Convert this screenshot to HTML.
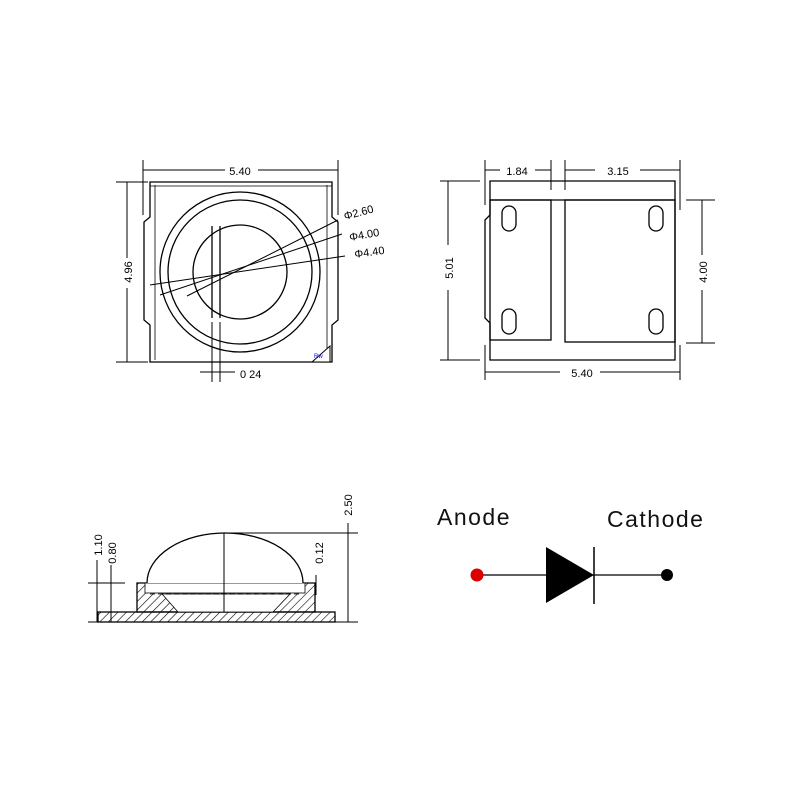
<!DOCTYPE html>
<html><head><meta charset="utf-8"><style>body{margin:0;background:#fff}svg{display:block}</style></head><body>
<svg width="800" height="800" viewBox="0 0 800 800" xmlns="http://www.w3.org/2000/svg" font-family="Liberation Sans, sans-serif">
<defs>
<pattern id="h" width="6" height="6" patternUnits="userSpaceOnUse" patternTransform="rotate(45)"><line x1="0" y1="0" x2="0" y2="6" stroke="#000" stroke-width="1.2"/></pattern>
</defs>
<g fill="none" stroke="#000" stroke-width="1.3">
<path d="M150 182 H332 V217 L338 222 V320 L332 325 V362 H150 V325 L144 320 V222 L150 217 Z"/>
<line x1="155" y1="185" x2="155" y2="360" stroke-width="0.8"/>
<line x1="327" y1="185" x2="327" y2="360" stroke-width="0.8"/>
<line x1="150" y1="186" x2="332" y2="186" stroke-width="0.8"/>
<circle cx="240" cy="272" r="80"/>
<circle cx="240" cy="272" r="72"/>
<circle cx="240" cy="272" r="47"/>
<line x1="212" y1="226" x2="212" y2="318"/>
<line x1="220" y1="226" x2="220" y2="318"/>
<line x1="212" y1="322" x2="212" y2="382" stroke-width="1"/>
<line x1="220" y1="322" x2="220" y2="382" stroke-width="1"/>
<line x1="200" y1="372" x2="235" y2="372" stroke-width="1"/>
<line x1="150" y1="285" x2="345" y2="256" stroke-width="1"/>
<line x1="160" y1="295" x2="342" y2="234" stroke-width="1"/>
<line x1="187" y1="296" x2="338" y2="220" stroke-width="1"/>
<line x1="143" y1="160" x2="143" y2="215" stroke-width="1"/>
<line x1="338" y1="160" x2="338" y2="215" stroke-width="1"/>
<line x1="143" y1="170" x2="225" y2="170" stroke-width="1"/>
<line x1="258" y1="170" x2="338" y2="170" stroke-width="1"/>
<line x1="116" y1="182" x2="148" y2="182" stroke-width="1"/>
<line x1="116" y1="362" x2="148" y2="362" stroke-width="1"/>
<line x1="127" y1="182" x2="127" y2="258" stroke-width="1"/>
<line x1="127" y1="288" x2="127" y2="362" stroke-width="1"/>
<path d="M490 181 H675 V360 H490 V323 L485 318 V220 L490 215 Z"/>
<line x1="490" y1="200" x2="675" y2="200"/>
<rect x="490" y="200" width="61" height="140"/>
<rect x="565" y="200" width="110" height="142"/>
<rect x="502" y="206" width="14" height="25" rx="7"/>
<rect x="502" y="309" width="14" height="25" rx="7"/>
<rect x="649" y="206" width="14" height="25" rx="7"/>
<rect x="649" y="309" width="14" height="25" rx="7"/>
<g stroke-width="1">
<line x1="485" y1="160" x2="485" y2="205"/><line x1="551" y1="160" x2="551" y2="190"/>
<line x1="565" y1="160" x2="565" y2="190"/><line x1="680" y1="160" x2="680" y2="210"/>
<line x1="485" y1="170" x2="500" y2="170"/><line x1="535" y1="170" x2="551" y2="170"/>
<line x1="565" y1="170" x2="595" y2="170"/><line x1="640" y1="170" x2="680" y2="170"/>
<line x1="440" y1="181" x2="480" y2="181"/><line x1="440" y1="360" x2="480" y2="360"/>
<line x1="448" y1="181" x2="448" y2="245"/><line x1="448" y1="290" x2="448" y2="360"/>
<line x1="686" y1="200" x2="715" y2="200"/><line x1="686" y1="343" x2="715" y2="343"/>
<line x1="702" y1="200" x2="702" y2="255"/><line x1="702" y1="290" x2="702" y2="343"/>
<line x1="485" y1="345" x2="485" y2="380"/><line x1="680" y1="345" x2="680" y2="380"/>
<line x1="485" y1="372" x2="560" y2="372"/><line x1="600" y1="372" x2="680" y2="372"/>
</g>
<rect x="98" y="612" width="237" height="10" fill="url(#h)"/>
<path d="M137 583 H315 V612 H137 Z" fill="url(#h)"/>
<path d="M162 594 L178 612 H273 L290 594 Z" fill="#fff" stroke-width="0.8"/>
<rect x="145" y="583" width="160" height="10" fill="#fff" stroke-width="0.8"/>
<line x1="150" y1="594" x2="300" y2="594" stroke-dasharray="5,3" stroke-width="0.8"/>
<path d="M147 583 A78 50 0 0 1 303 583" fill="#fff"/>
<line x1="224" y1="533" x2="224" y2="612" stroke-width="1"/>
<g stroke-width="1">
<line x1="224" y1="533" x2="358" y2="533"/><line x1="88" y1="622" x2="358" y2="622"/>
<line x1="348" y1="523" x2="348" y2="622"/>
<line x1="88" y1="583" x2="125" y2="583"/>
<line x1="97" y1="560" x2="97" y2="622"/><line x1="111" y1="565" x2="111" y2="622"/>
<line x1="316" y1="575" x2="316" y2="595"/>
</g>
<line x1="477" y1="575" x2="546" y2="575"/>
<line x1="593" y1="575" x2="667" y2="575"/>
<line x1="594" y1="547" x2="594" y2="604" stroke-width="1.5"/>
</g>
<polygon points="546,547 594,575 546,603" fill="#000"/>
<circle cx="477" cy="575" r="6.5" fill="#d00"/>
<circle cx="667" cy="575" r="6" fill="#000"/>
<polygon points="312,362 330,362 330,346" fill="#fff" stroke="#000" stroke-width="1"/>
<text x="314" y="358" font-size="6" fill="#00f">Rw</text>
<g font-size="11" fill="#000">
<text x="240" y="175" text-anchor="middle">5.40</text>
<text x="240" y="378">0 24</text>
<text transform="translate(132,272) rotate(-90)" text-anchor="middle">4.96</text>
<text x="345" y="220" transform="rotate(-15 345 220)">Φ2.60</text>
<text x="350" y="241" transform="rotate(-10 350 241)">Φ4.00</text>
<text x="355" y="258" transform="rotate(-8 355 258)">Φ4.40</text>
<text x="517" y="175" text-anchor="middle">1.84</text>
<text x="618" y="175" text-anchor="middle">3.15</text>
<text transform="translate(453,268) rotate(-90)" text-anchor="middle">5.01</text>
<text transform="translate(707,272) rotate(-90)" text-anchor="middle">4.00</text>
<text x="582" y="377" text-anchor="middle">5.40</text>
<text transform="translate(352,505) rotate(-90)" text-anchor="middle">2.50</text>
<text transform="translate(102,545) rotate(-90)" text-anchor="middle">1.10</text>
<text transform="translate(116,553) rotate(-90)" text-anchor="middle">0.80</text>
<text transform="translate(323,553) rotate(-90)" text-anchor="middle">0.12</text>
</g>
<text x="437" y="525" font-size="23" letter-spacing="1.5" fill="#111">Anode</text>
<text x="607" y="527" font-size="23" letter-spacing="1.5" fill="#111">Cathode</text>
</svg>
</body></html>
